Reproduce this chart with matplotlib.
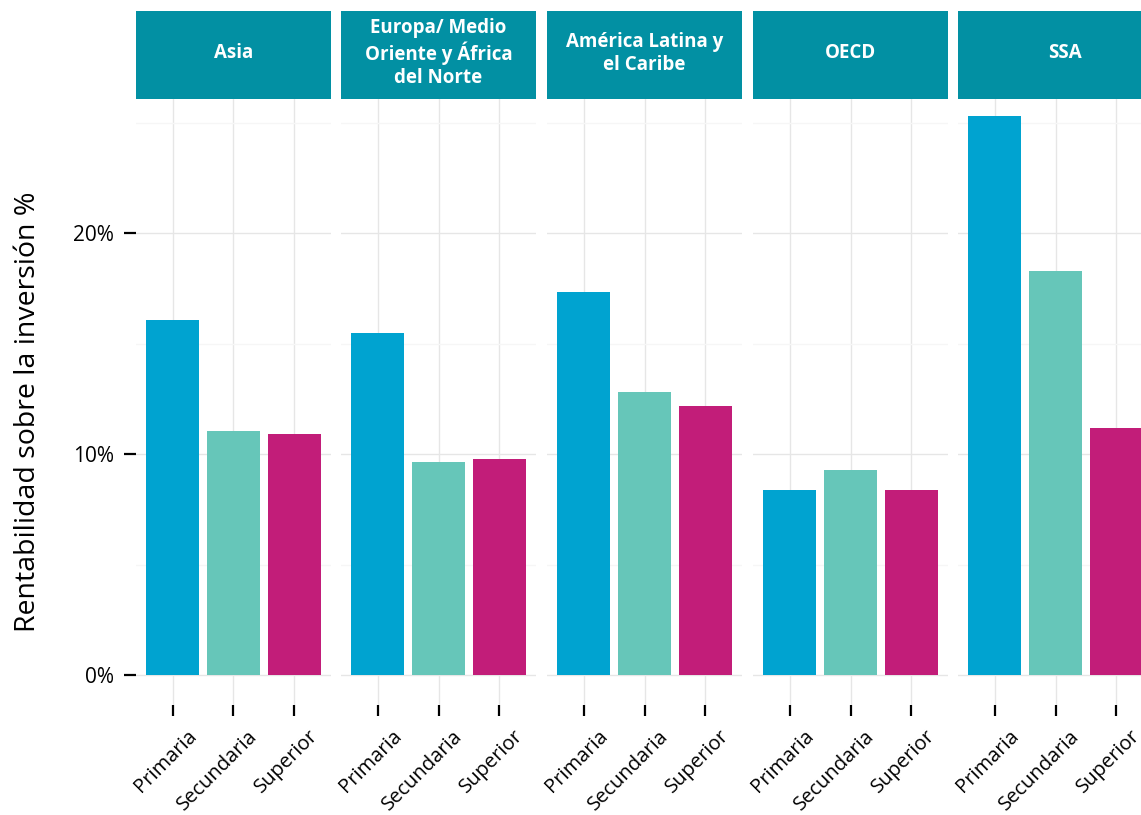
import matplotlib
matplotlib.use('Agg')
import matplotlib.pyplot as plt
import matplotlib.transforms as mtransforms
import numpy as np

plt.rcParams['font.family'] = ['Open Sans', 'DejaVu Sans']

regions = ['Asia', 'Europa/ Medio\nOriente y África\ndel Norte', 'América Latina y\nel Caribe', 'OECD', 'SSA']
levels = ['Primaria', 'Secundaria', 'Superior']
primaria = [16.1, 15.5, 17.35, 8.4, 25.3]
secundaria = [11.05, 9.65, 12.8, 9.3, 18.3]
superior = [10.9, 9.8, 12.2, 8.4, 11.2]
colors = ['#00A3D0', '#66C6B9', '#C21D79']
strip_color = '#0290A3'

W, H = 1141, 815
fig = plt.figure(figsize=[W / 100, H / 100], dpi=100)


def px_axes(left, top, width, height):
    return fig.add_axes([left / W, 1 - (top + height) / H, width / W, height / H])


lefts = [136, 341, 547, 753, 958]
pw = 195
x = np.arange(1, 4)
for k, name in enumerate(regions):
    ax = px_axes(lefts[k], 99, pw, 606)
    vals = [primaria[k], secundaria[k], superior[k]]
    ax.bar(x, vals, width=0.86, color=colors, zorder=3)
    ax.set_xlim(0.4, 3.6)
    ax.set_ylim(-1.359, 26.087)
    ax.set_yticks([0, 10, 20])
    ax.set_yticks([5, 15, 25], minor=True)
    ax.grid(True, which='major', color='#E6E6E6', linewidth=1.0)
    ax.grid(True, which='minor', axis='y', color='#F6F6F6', linewidth=1.0)
    ax.set_axisbelow(True)
    for s in ax.spines.values():
        s.set_visible(False)
    ax.set_xticks(x)
    ax.set_xticklabels(levels, rotation=45, ha='right', va='top', rotation_mode='anchor', fontsize=14.5)
    ax.tick_params(axis='x', length=8, width=1.6, color='black', pad=7)
    offset = mtransforms.ScaledTranslation(0.14, 0, fig.dpi_scale_trans)
    for lab in ax.get_xticklabels():
        lab.set_transform(lab.get_transform() + offset)
    ax.tick_params(axis='y', which='minor', length=0)
    if k == 0:
        ax.set_yticklabels(['0%', '10%', '20%'], fontsize=15)
        ax.tick_params(axis='y', which='major', length=8.6, width=1.6, color='black', pad=7)
    else:
        ax.tick_params(axis='y', which='major', length=0, labelleft=False)

    st = px_axes(lefts[k], 11, pw, 88)
    st.set_facecolor(strip_color)
    st.set_xticks([])
    st.set_yticks([])
    for s in st.spines.values():
        s.set_visible(False)
    tx = 0.5 if k < 4 else 0.549
    st.text(tx, 0.52, name, transform=st.transAxes, ha='center', va='center',
            color='white', fontsize=13.5, fontweight='bold', linespacing=1.2)

fig.text(28 / W, 1 - 412 / H, 'Rentabilidad sobre la inversión %', rotation=90,
         ha='center', va='center', fontsize=20.5)

plt.savefig('out.png', dpi=100)
